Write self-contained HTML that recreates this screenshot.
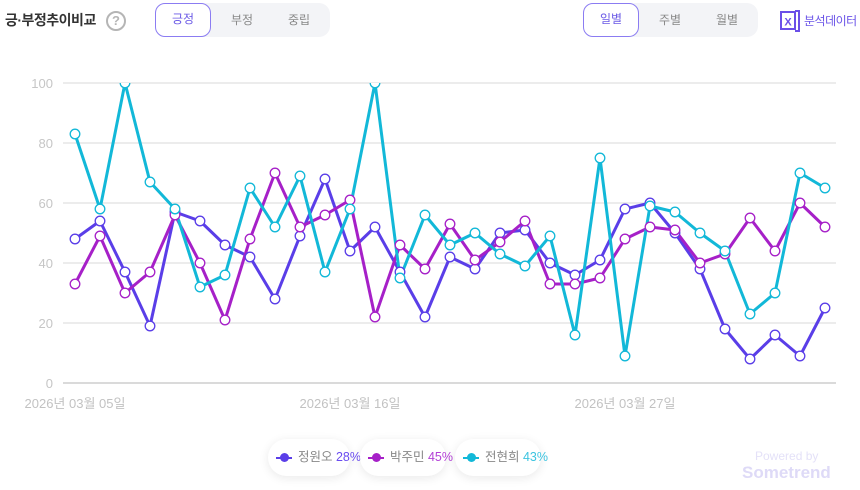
<!DOCTYPE html>
<html><head><meta charset="utf-8">
<style>
*{margin:0;padding:0;box-sizing:border-box}
body{width:860px;height:490px;background:#fff;position:relative;overflow:hidden;font-family:"Liberation Sans","Noto Sans CJK KR",sans-serif}
.title{position:absolute;left:5px;top:10px;font-size:14px;font-weight:bold;color:#333;letter-spacing:-0.5px}
.q{position:absolute;left:106px;top:11px;width:20px;height:20px;border:2px solid #b5b5b5;border-radius:50%;color:#b5b5b5;font-size:13px;font-weight:bold;text-align:center;line-height:16px}
.seg{position:absolute;top:3px;height:34px;background:#f3f4f7;border-radius:11px}
.seg span{position:absolute;top:0;height:34px;line-height:34px;font-size:12px;color:#888;text-align:center;width:56px}
.seg span.on{background:#fff;border:1.5px solid #8b7cf2;border-radius:10px;color:#6b5ae6;line-height:31px;top:0}
.pill{position:absolute;top:439px;height:37px;background:#fff;border-radius:19px;box-shadow:0 2px 10px rgba(0,0,0,0.09);font-size:12.5px;color:#888;line-height:37px}
.pill i{position:absolute;left:8px;top:18px;width:16px;height:2px}
.pill b{position:absolute;left:12px;top:14px;width:9px;height:9px;border-radius:50%}
.pill .t{position:absolute;left:30px;top:0;white-space:nowrap}
</style></head><body>
<div class="title">긍·부정추이비교</div>
<div class="q">?</div>
<div class="seg" style="left:155px;width:175px">
<span class="on" style="left:0">긍정</span>
<span style="left:59px">부정</span>
<span style="left:116px">중립</span>
</div>
<div class="seg" style="left:583px;width:175px">
<span class="on" style="left:0">일별</span>
<span style="left:59px">주별</span>
<span style="left:116px">월별</span>
</div>
<svg style="position:absolute;left:780px;top:8px" width="20" height="26" viewBox="0 0 20 26">
<rect x="1" y="4" width="14" height="17" fill="#fff" stroke="#6b4fe8" stroke-width="2"/>
<path d="M15 3 L19 3 L19 23 L15 23" fill="none" stroke="#6b4fe8" stroke-width="2"/>
<text x="8" y="17.5" font-size="11" font-weight="bold" fill="#6b4fe8" text-anchor="middle" font-family="Liberation Sans">X</text>
</svg>
<div style="position:absolute;left:804px;top:12px;font-size:12px;color:#6b54e8;letter-spacing:-0.5px">분석데이터</div>

<svg style="position:absolute;left:0;top:0" width="860" height="430">
<defs><clipPath id="c"><rect x="55" y="83" width="800" height="320"/></clipPath></defs>
<g stroke="#e6e6e6" stroke-width="1.5">
<line x1="63" y1="83" x2="836" y2="83"/>
<line x1="63" y1="143" x2="836" y2="143"/>
<line x1="63" y1="203" x2="836" y2="203"/>
<line x1="63" y1="263" x2="836" y2="263"/>
<line x1="63" y1="323" x2="836" y2="323"/>
<line x1="63" y1="383" x2="836" y2="383" stroke="#dadada" stroke-width="2"/>
</g>
<g font-size="13" fill="#c6c6c6" text-anchor="end" font-family="Liberation Sans">
<text x="53" y="88">100</text><text x="53" y="148">80</text><text x="53" y="208">60</text><text x="53" y="268">40</text><text x="53" y="328">20</text><text x="53" y="388">0</text>
</g>
<g font-size="13" fill="#c2c2c2" text-anchor="middle" font-family="Liberation Sans,Noto Sans CJK KR,sans-serif">
<text x="75" y="408">2026년 03월 05일</text>
<text x="350" y="408">2026년 03월 16일</text>
<text x="625" y="408">2026년 03월 27일</text>
</g>
<g id="plot" clip-path="url(#c)"></g>
</svg>

<div class="pill" style="left:268px;width:82px"><i style="background:#5a3ee8"></i><b style="background:#5a3ee8"></b><span class="t">정원오 <span style="color:#6a4cf0">28%</span></span></div>
<div class="pill" style="left:360px;width:86px"><i style="background:#a620c8"></i><b style="background:#a620c8"></b><span class="t">박주민 <span style="color:#b33fd6">45%</span></span></div>
<div class="pill" style="left:455px;width:86px"><i style="background:#12b8d8"></i><b style="background:#12b8d8"></b><span class="t">전현희 <span style="color:#3cc4e0">43%</span></span></div>

<div style="position:absolute;left:755px;top:449px;font-size:12px;color:#e4e1f8">Powered by</div>
<div style="position:absolute;left:742px;top:463px;font-size:17px;font-weight:bold;color:#dedaf7">Sometrend</div>

<script>
var S=[
{c:"#5a3ee8",d:[48,54,37,19,57,54,46,42,28,49,68,44,52,37,22,42,38,50,51,40,36,41,58,60,50,38,18,8,16,9,25]},
{c:"#a620c8",d:[33,49,30,37,56,40,21,48,70,52,56,61,22,46,38,53,41,47,54,33,33,35,48,52,51,40,43,55,44,60,52]},
{c:"#12b8d8",d:[83,58,100,67,58,32,36,65,52,69,37,58,100,35,56,46,50,43,39,49,16,75,9,59,57,50,44,23,30,70,65]}
];
var g=document.getElementById("plot"),h="";
S.forEach(function(s){
var p=s.d.map(function(v,i){return (75+25*i)+","+(383-3*v)}).join(" ");
h+='<polyline points="'+p+'" fill="none" stroke="'+s.c+'" stroke-width="3" stroke-linejoin="round"/>';
});
S.forEach(function(s){
s.d.forEach(function(v,i){h+='<circle cx="'+(75+25*i)+'" cy="'+(383-3*v)+'" r="4.8" fill="#fff" stroke="'+s.c+'" stroke-width="1.3"/>';});
});
g.innerHTML=h;
</script>
</body></html>
